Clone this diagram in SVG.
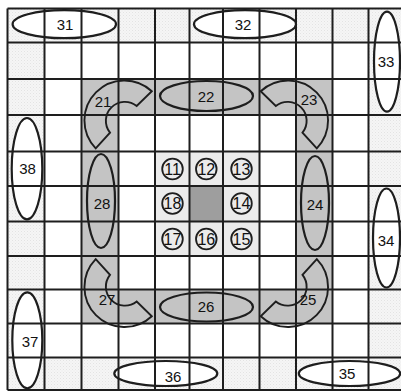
<svg xmlns="http://www.w3.org/2000/svg" xmlns:xlink="http://www.w3.org/1999/xlink" width="401" height="392" viewBox="0 0 401 392">
<style>
.ln{stroke:#1e1e1e;stroke-width:2;fill:none}
.eg{stroke:#1e1e1e;stroke-width:2.2;fill:none}
.ar{stroke:#1e1e1e;stroke-width:1.9;fill:none}
.ci{stroke:#1e1e1e;stroke-width:1.8;fill:none}
text{font-family:"Liberation Sans",Arial,sans-serif;font-size:15px;fill:#111;text-anchor:middle}
.cn{font-size:16px}
</style>
<defs>
<pattern id="st" width="3" height="3" patternUnits="userSpaceOnUse">
<rect width="3" height="3" fill="#f5f5f5"/>
<rect width="1" height="1" fill="#e3e3e3"/>
<rect x="1.5" y="1.5" width="1" height="1" fill="#e9e9e9"/>
</pattern>
<path id="arc" d="M151.8,91.3 A40,40 0 0,0 95.7,148.3 L110,132.7 A19,19 0 0,1 136.7,106 Z"/>
</defs>
<rect width="401" height="392" fill="#fff"/>
<g id="cells">
<rect x="7.5" y="8.5" width="397.5" height="381.5" fill="url(#st)"/>
<rect x="44.5" y="42.5" width="324" height="315" fill="#fff"/>
<rect x="81.5" y="79" width="251" height="244.5" fill="#c4c4c4"/>
<rect x="118.5" y="115" width="177.5" height="174.5" fill="#fff"/>
<rect x="155" y="151.5" width="104.5" height="104.5" fill="#ebebeb"/>
<rect x="189.5" y="186" width="33.5" height="35.5" fill="#9e9e9e"/>
</g>
<g id="outer-fills">
<ellipse cx="64.3" cy="24.2" rx="51.7" ry="14" fill="#fff"/>
<ellipse cx="245" cy="24.2" rx="51" ry="14" fill="#fff"/>
<ellipse cx="387" cy="61.7" rx="13" ry="50" fill="#fff"/>
<ellipse cx="386.5" cy="238" rx="13.5" ry="49.5" fill="#fff"/>
<ellipse cx="349.5" cy="373.5" rx="50.7" ry="12.5" fill="#fff"/>
<ellipse cx="165.8" cy="373.5" rx="51.5" ry="12.5" fill="#fff"/>
<ellipse cx="27.3" cy="340.3" rx="15" ry="48" fill="#fff"/>
<ellipse cx="27" cy="168.7" rx="15.3" ry="50.7" fill="#fff"/>
</g>
<g id="grid" class="ln">
<path d="M7.5,8.5V390M44.5,8.5V390M81.5,8.5V390M118.5,8.5V390M155,8.5V390M189.5,8.5V390M223,8.5V390M259.5,8.5V390M296,8.5V390M332.5,8.5V390M368.5,8.5V390"/>
<path d="M7.5,8.5H405M7.5,42.5H405M7.5,79H405M7.5,115H405M7.5,151.5H405M7.5,186H405M7.5,221.5H405M7.5,256H405M7.5,289.5H405M7.5,323.5H405M7.5,357.5H405M7.5,390H405"/>
</g>
<g id="n31"><ellipse class="eg" cx="64.3" cy="24.2" rx="51.7" ry="14"/><text x="65" y="30">31</text></g>
<g id="n32"><ellipse class="eg" cx="245" cy="24.2" rx="51" ry="14"/><text x="243" y="30">32</text></g>
<g id="n33"><ellipse class="eg" cx="387" cy="61.7" rx="13" ry="50"/><text x="386" y="67">33</text></g>
<g id="n34"><ellipse class="eg" cx="386.5" cy="238" rx="13.5" ry="49.5"/><text x="386" y="246">34</text></g>
<g id="n35"><ellipse class="eg" cx="349.5" cy="373.5" rx="50.7" ry="12.5"/><text x="347" y="379">35</text></g>
<g id="n36"><ellipse class="eg" cx="165.8" cy="373.5" rx="51.5" ry="12.5"/><text x="173" y="382">36</text></g>
<g id="n37"><ellipse class="eg" cx="27.3" cy="340.3" rx="15" ry="48"/><text x="30" y="347">37</text></g>
<g id="n38"><ellipse class="eg" cx="27" cy="168.7" rx="15.3" ry="50.7"/><text x="27.5" y="174">38</text></g>
<g id="n22"><ellipse class="eg" cx="206.5" cy="96" rx="46.5" ry="15"/><text x="206" y="102">22</text></g>
<g id="n24"><ellipse class="eg" cx="315" cy="203" rx="14" ry="47"/><text x="315" y="210">24</text></g>
<g id="n26"><ellipse class="eg" cx="206.5" cy="307" rx="46.5" ry="14.5"/><text x="206" y="312">26</text></g>
<g id="n28"><ellipse class="eg" cx="101" cy="201" rx="14" ry="47"/><text x="102" y="209">28</text></g>
<g id="n21"><use xlink:href="#arc" class="ar"/><text x="103" y="107">21</text></g>
<g id="n23"><use xlink:href="#arc" class="ar" transform="translate(412.5,0) scale(-1,1)"/><text x="309" y="105">23</text></g>
<g id="n25"><use xlink:href="#arc" class="ar" transform="translate(412.5,407.5) scale(-1,-1)"/><text x="308" y="305">25</text></g>
<g id="n27"><use xlink:href="#arc" class="ar" transform="translate(0,407.5) scale(1,-1)"/><text x="107" y="305">27</text></g>
<g id="n11"><circle class="ci" cx="172.5" cy="169" r="10.3"/><text class="cn" x="172.5" y="174.8">11</text></g>
<g id="n12"><circle class="ci" cx="206.3" cy="169" r="10.3"/><text class="cn" x="206.3" y="174.8">12</text></g>
<g id="n13"><circle class="ci" cx="241.5" cy="169" r="10.3"/><text class="cn" x="241.5" y="174.8">13</text></g>
<g id="n14"><circle class="ci" cx="241.5" cy="203.5" r="10.3"/><text class="cn" x="241.5" y="209.3">14</text></g>
<g id="n15"><circle class="ci" cx="241.5" cy="239" r="10.3"/><text class="cn" x="241.5" y="244.8">15</text></g>
<g id="n16"><circle class="ci" cx="206.3" cy="239" r="10.3"/><text class="cn" x="206.3" y="244.8">16</text></g>
<g id="n17"><circle class="ci" cx="172.5" cy="239" r="10.3"/><text class="cn" x="172.5" y="244.8">17</text></g>
<g id="n18"><circle class="ci" cx="172.5" cy="203.5" r="10.3"/><text class="cn" x="172.5" y="209.3">18</text></g>
</svg>
